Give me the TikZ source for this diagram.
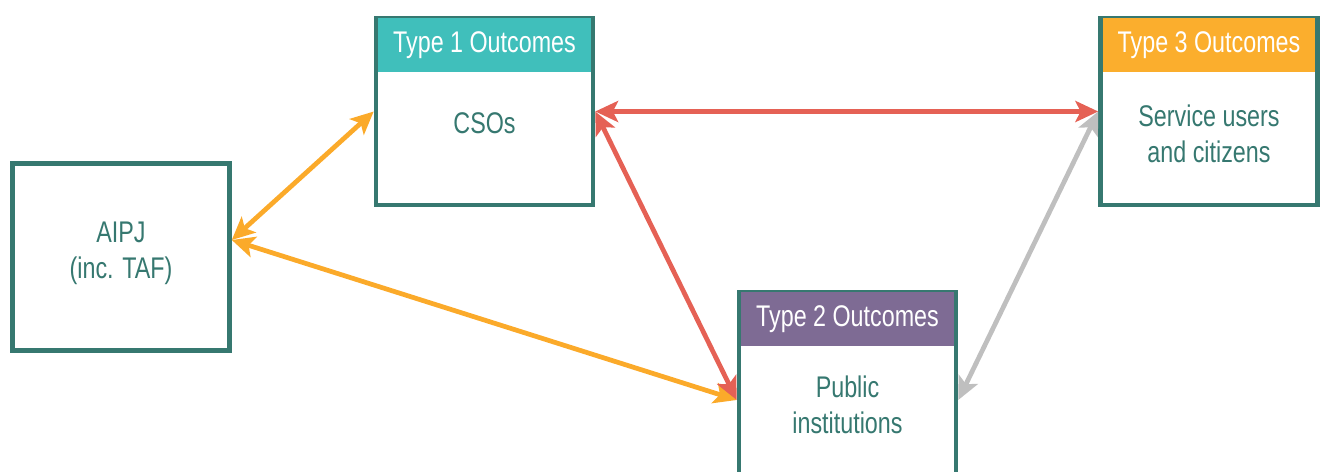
\documentclass[tikz,border=0pt]{standalone}
\usepackage{fontspec}
\setmainfont{Liberation Sans}[FakeStretch=0.78]
\usetikzlibrary{positioning,arrows.meta}

\definecolor{boxteal}{HTML}{367870}
\definecolor{headteal}{HTML}{40BFBB}
\definecolor{headorange}{HTML}{FBAE2D}
\definecolor{headpurple}{HTML}{7E6B94}
\definecolor{linkorange}{HTML}{FBAA2A}
\definecolor{linkred}{HTML}{E56155}
\definecolor{linkgray}{HTML}{BFBFBF}

\begin{document}
\begin{tikzpicture}[
  every node/.style={font=\fontsize{17}{20.3}\selectfont, text=boxteal},
  outbox/.style={draw=boxteal, fill=white, line width=2.6pt, inner sep=0pt,
    minimum width=4.34cm, minimum height=3.74cm, align=center},
  headbar/.style={fill=#1, text=white, inner sep=0pt, anchor=north,
    minimum width=4.34cm-2.6pt, minimum height=1.08cm},
  bodytext/.style={inner sep=0pt, align=center},
  link/.style={draw=#1, line width=2.7pt,
    {Stealth[length=13pt,width=12pt,inset=3pt]}-{Stealth[length=13pt,width=12pt,inset=3pt]}},
]
  %----- frame -----
  \useasboundingbox (0,0) rectangle (26.4,9.44);

  %----- boxes -----
  \node[outbox] (aipj) at (2.42,4.30) {};
  \node[bodytext] (aipjtxt) at ([yshift=0.08cm]aipj.center) {AIPJ\\(inc. TAF)};

  \node[outbox] (t1) at (9.69,7.21) {};
  \node[headbar=headteal] (t1head) at ([yshift=-1.3pt]t1.north) {Type 1 Outcomes};
  \node[bodytext, below=0.8cm of t1head] (t1txt) {CSOs};

  \node[outbox] (t3) at (24.18,7.21) {};
  \node[headbar=headorange] (t3head) at ([yshift=-1.3pt]t3.north) {Type 3 Outcomes};
  \node[bodytext, below=0.64cm of t3head] (t3txt) {Service users\\and citizens};

  \node[outbox] (t2) at (16.95,1.73) {};
  \node[headbar=headpurple] (t2head) at ([yshift=-1.3pt]t2.north) {Type 2 Outcomes};
  \node[bodytext, below=0.58cm of t2head] (t2txt) {Public\\institutions};

  %----- links -----
  \draw[link=linkorange] ([yshift=0.34cm]aipj.east) -- (t1.west);
  \draw[link=linkorange] ([yshift=0.34cm]aipj.east) -- ([yshift=-0.29cm]t2.west);
  \draw[link=linkred] (t1.east) -- (t3.west);
  \draw[link=linkred] (t1.east) -- ([yshift=-0.29cm]t2.west);
  \draw[link=linkgray] (t3.west) -- ([yshift=-0.29cm]t2.east);
\end{tikzpicture}
\end{document}
